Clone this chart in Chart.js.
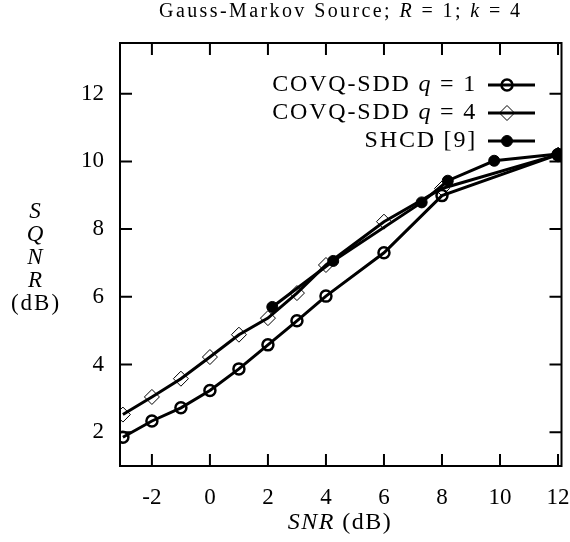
<!DOCTYPE html>
<html>
<head>
<meta charset="utf-8">
<script src="https://cdn.jsdelivr.net/npm/chart.js@4"></script>
<style>
  html, body { margin: 0; background: #fff; }
  #wrap { width: 570px; height: 542px; }
</style>
</head>
<body>
<div id="wrap"><canvas id="c"></canvas></div>
<script>
  // values
  const snrQ1 = [-3, -2, -1, 0, 1, 2, 3, 4, 6, 8, 12];
  const sqnrQ1 = [1.85, 2.33, 2.72, 3.23, 3.87, 4.58, 5.29, 6.02, 7.30, 8.99, 10.2];
  const snrQ4 = [-3, -2, -1, 0, 1, 2, 3, 4, 6, 8, 12];
  const sqnrQ4 = [2.52, 3.04, 3.58, 4.22, 4.88, 5.37, 6.11, 6.94, 8.22, 9.2, 10.2];
  const snrShcd = [2.15, 4.25, 7.3, 8.2, 9.8, 12];
  const sqnrShcd = [5.7, 7.06, 8.79, 9.43, 10.02, 10.22];

  const xTickValues = [-2, 0, 2, 4, 6, 8, 10, 12];
  const yTickValues = [2, 4, 6, 8, 10, 12];

  const serif = "'Liberation Serif', 'DejaVu Serif', serif";

  const toPoints = (xs, ys) => xs.map((x, i) => ({ x: x, y: ys[i] }));

  // draw a line of text made of upright / italic pieces
  function drawRuns(ctx, runs, x, y, size, align, spacing) {
    ctx.letterSpacing = (spacing || 0) + 'px';
    let total = 0;
    const widths = runs.map(r => {
      ctx.font = (r[1] ? 'italic ' : '') + size + 'px ' + serif;
      const w = ctx.measureText(r[0]).width;
      total += w;
      return w;
    });
    let cx = align === 'center' ? x - total / 2 : (align === 'right' ? x - total : x);
    ctx.textAlign = 'left';
    ctx.textBaseline = 'middle';
    runs.forEach((r, i) => {
      ctx.font = (r[1] ? 'italic ' : '') + size + 'px ' + serif;
      ctx.fillText(r[0], cx, y);
      cx += widths[i];
    });
    ctx.letterSpacing = '0px';
  }

  // frame with inward ticks on all four sides
  const framePlugin = {
    id: 'frame',
    beforeDatasetsDraw(chart) {
      const { ctx, chartArea: a, scales } = chart;
      ctx.save();
      ctx.strokeStyle = '#000';
      ctx.lineWidth = 2;
      ctx.strokeRect(a.left, a.top, a.right - a.left, a.bottom - a.top);
      const len = 12;
      ctx.beginPath();
      xTickValues.forEach(v => {
        const px = scales.x.getPixelForValue(v);
        ctx.moveTo(px, a.bottom); ctx.lineTo(px, a.bottom - len);
        ctx.moveTo(px, a.top); ctx.lineTo(px, a.top + len);
      });
      yTickValues.forEach(v => {
        const py = scales.y.getPixelForValue(v);
        ctx.moveTo(a.left, py); ctx.lineTo(a.left + len, py);
        ctx.moveTo(a.right, py); ctx.lineTo(a.right - len, py);
      });
      ctx.stroke();
      ctx.restore();
    }
  };

  // titles and legend
  const textPlugin = {
    id: 'texts',
    afterDraw(chart) {
      const { ctx, chartArea: a } = chart;
      ctx.save();
      ctx.fillStyle = '#000';
      const mid = (a.left + a.right) / 2;

      drawRuns(ctx, [['Gauss-Markov Source; ', false], ['R', true], [' = 1; ', false], ['k', true], [' = 4', false]],
        mid, 12, 20, 'center', 2.4);

      drawRuns(ctx, [['SNR', true], [' (dB)', false]], 340, 523, 24, 'center', 1.5);

      const yTitle = [['S', true], ['Q', true], ['N', true], ['R', true], ['(dB)', false]];
      yTitle.forEach((r, i) => drawRuns(ctx, [r], 36, 212 + i * 23, 23, 'center', 2));

      // legend
      chart.data.datasets.forEach((ds, i) => {
        const y = 85 + i * 28;
        drawRuns(ctx, ds.labelParts, 477, y, 24, 'right', 1.8);
        ctx.strokeStyle = '#000';
        ctx.lineWidth = ds.borderWidth;
        ctx.beginPath();
        ctx.moveTo(488, y); ctx.lineTo(535, y);
        ctx.stroke();
        ctx.fillStyle = ds.pointBackgroundColor;
        ctx.lineWidth = ds.pointBorderWidth;
        Chart.helpers.drawPoint(ctx, {
          pointStyle: ds.pointStyle, radius: ds.pointRadius, rotation: 0, borderWidth: ds.pointBorderWidth
        }, 507, y);
        ctx.fillStyle = '#000';
      });
      ctx.restore();
    }
  };

  new Chart(document.getElementById('c'), {
    type: 'scatter',
    data: {
      datasets: [
        {
          label: 'COVQ-SDD q = 1',
          labelParts: [['COVQ-SDD ', false], ['q', true], [' = 1', false]],
          data: toPoints(snrQ1, sqnrQ1),
          showLine: true,
          borderColor: '#000',
          borderWidth: 3,
          pointStyle: 'circle',
          pointRadius: 5.5,
          pointBorderWidth: 2.5,
          pointBorderColor: '#000',
          pointBackgroundColor: 'rgba(0,0,0,0)'
        },
        {
          label: 'COVQ-SDD q = 4',
          labelParts: [['COVQ-SDD ', false], ['q', true], [' = 4', false]],
          data: toPoints(snrQ4, sqnrQ4),
          showLine: true,
          borderColor: '#000',
          borderWidth: 3,
          pointStyle: 'rectRot',
          pointRadius: 7.5,
          pointBorderWidth: 1,
          pointBorderColor: '#000',
          pointBackgroundColor: 'rgba(0,0,0,0)'
        },
        {
          label: 'SHCD [9]',
          labelParts: [['SHCD [9]', false]],
          data: toPoints(snrShcd, sqnrShcd),
          showLine: true,
          borderColor: '#000',
          borderWidth: 3,
          pointStyle: 'circle',
          pointRadius: 5.5,
          pointBorderWidth: 1,
          pointBorderColor: '#000',
          pointBackgroundColor: '#000'
        }
      ]
    },
    options: {
      responsive: true,
      maintainAspectRatio: false,
      devicePixelRatio: 1,
      animation: false,
      layout: { padding: { left: 0, right: 8, top: 43, bottom: 0 } },
      plugins: { legend: { display: false }, tooltip: { enabled: false }, title: { display: false } },
      scales: {
        x: {
          type: 'linear',
          min: -3.1,
          max: 12.12,
          afterBuildTicks: s => { s.ticks = xTickValues.map(v => ({ value: v })); },
          afterFit: s => { s.height = 76; s.paddingLeft = 0; s.paddingRight = 0; },
          grid: { display: false, drawTicks: false },
          border: { display: false },
          ticks: { color: '#000', padding: 18, maxRotation: 0, font: { family: serif, size: 23 } }
        },
        y: {
          type: 'linear',
          min: 1,
          max: 13.5,
          afterBuildTicks: s => { s.ticks = yTickValues.map(v => ({ value: v })); },
          afterFit: s => { s.width = 120; s.paddingTop = 0; s.paddingBottom = 0; },
          grid: { display: false, drawTicks: false },
          border: { display: false },
          ticks: { color: '#000', padding: 16, font: { family: serif, size: 23 } }
        }
      }
    },
    plugins: [framePlugin, textPlugin]
  });
</script>
</body>
</html>
